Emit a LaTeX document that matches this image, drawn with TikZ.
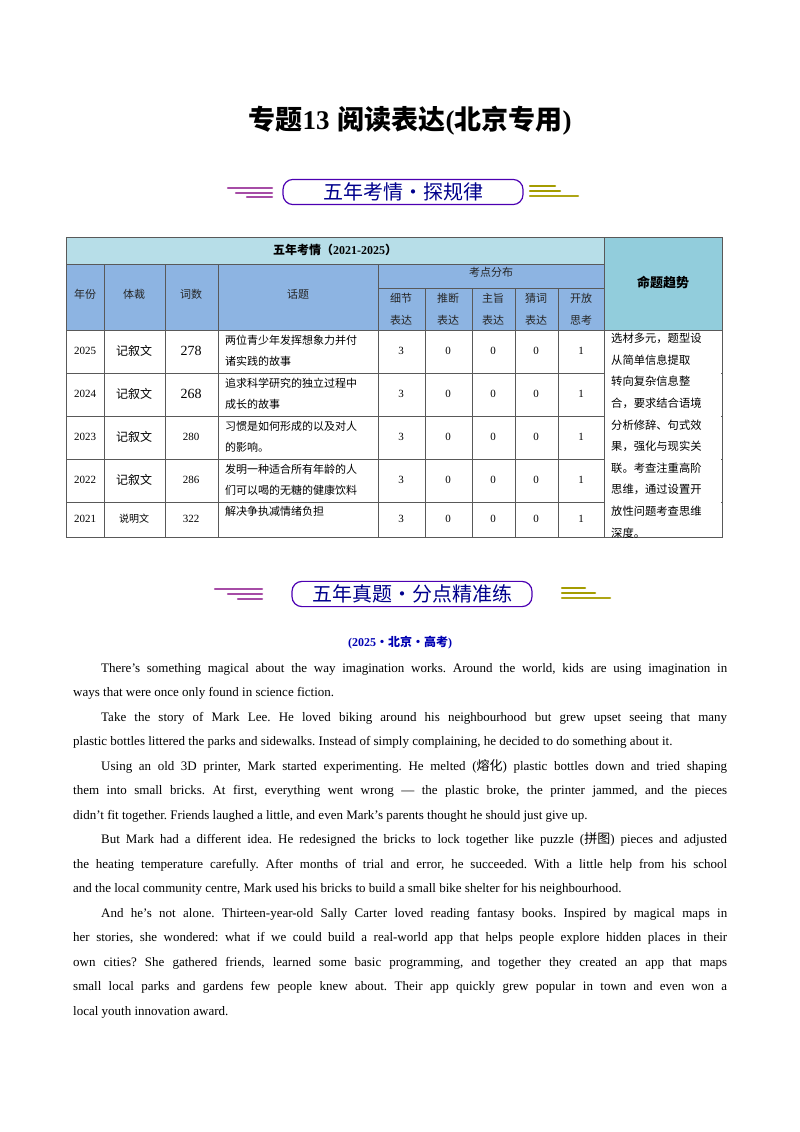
\documentclass[tikz,border=0pt]{standalone}
\usepackage{fontspec}
\setmainfont{Liberation Serif}
\newfontfamily\cjk{Noto Sans CJK SC}
\XeTeXlinebreaklocale "zh"
\definecolor{hdA}{HTML}{B7DEE8}
\definecolor{hdB}{HTML}{8DB4E2}
\definecolor{hdC}{HTML}{92CDDC}
\begin{document}
\begin{tikzpicture}[x=1pt,y=-1pt,
 cell/.style={inner sep=0pt,font=\fontsize{11}{18}\selectfont,align=center},
 ban/.style={draw=violet!60!blue,line width=1.2pt,rounded corners=10pt,minimum width=240pt,minimum height=24pt,font=\cjk\fontsize{20}{22}\selectfont,text=blue!55!black},
 para/.style={anchor=north west,text width=654pt,align=justify,inner sep=0pt,font=\fontsize{13}{24.5}\selectfont}]
\useasboundingbox (0,0) rectangle (800,1132);
\frenchspacing
\node (title) at (410,121) {\bfseries\fontsize{27}{29}\selectfont{\cjk 专题}13\hspace{8pt}{\cjk 阅读表达}({\cjk 北京专用})};
% banner 1
\node[ban] (b1) at (403,192) {五年考情·探规律};
\draw[violet!70,line width=2.5pt,line cap=round] (228,188)--(272,188);
\draw[violet!70,line width=2.5pt,line cap=round] (236,193)--(272,193);
\draw[violet!70,line width=2.5pt,line cap=round] (247,197)--(272,197);
\draw[olive!80!yellow,line width=2.5pt,line cap=round] (530,186)--(555,186);
\draw[olive!80!yellow,line width=2.5pt,line cap=round] (530,191)--(560,191);
\draw[olive!80!black!60!yellow,line width=2.5pt,line cap=round] (530,196)--(578,196);
% table
\fill[hdA] (66,237) rectangle (604,264);
\fill[hdB] (66,264) rectangle (604,330);
\fill[hdC] (604,237) rectangle (722,330);
\draw[gray!70!black,line width=0.6pt] (66,237) rectangle (722,537);
\foreach \y in {330,373,416,459,502}{\draw[gray!70!black,line width=0.5pt] (66,\y)--(722,\y);}
\draw[gray!70!black,line width=0.5pt] (66,264)--(604,264) (378,288)--(604,288);
\foreach \x in {104,165,218}{\draw[gray!70!black,line width=0.5pt] (\x,264)--(\x,537);}
\foreach \x in {425,472,515,558}{\draw[gray!70!black,line width=0.5pt] (\x,288)--(\x,537);}
\draw[gray!70!black,line width=0.5pt] (378,264)--(378,537) (604,237)--(604,537);
\foreach \y in {373,416,459,502}{\draw[white,line width=1pt] (605,\y)--(721,\y);}
\node[cell,font=\cjk\bfseries\fontsize{12}{14}\selectfont] (h0) at (335,250) {五年考情（\textnormal{\rmfamily\bfseries 2021-2025}）};
\node[cell,font=\cjk\bfseries\fontsize{13}{14}\selectfont] (h1) at (663,282) {命题趋势};
\node[cell,font=\cjk\fontsize{11}{14}\selectfont,text=gray!30!black] (hk) at (491,272) {考点分布};
\foreach \x/\t [count=\i] in {85/年份,134/体裁,191/词数,298/话题}{\node[cell,font=\cjk\fontsize{11}{14}\selectfont,text=gray!30!black] (hc\i) at (\x,294) {\t};}
\foreach \x/\t [count=\i] in {401/细节\\表达,448/推断\\表达,493/主旨\\表达,536/猜词\\表达,581/开放\\思考}{\node[cell,font=\cjk\fontsize{11}{22}\selectfont,text=gray!30!black] (hs\i) at (\x,309) {\t};}
\foreach \y/\yr/\g/\n/\t [count=\i] in {
351/2025/记叙文/278/两位青少年发挥想象力并付\\诸实践的故事,
394/2024/记叙文/268/追求科学研究的独立过程中\\成长的故事,
437/2023/记叙文/280/习惯是如何形成的以及对人\\的影响。,
480/2022/记叙文/286/发明一种适合所有年龄的人\\们可以喝的无糖的健康饮料}{
 \node[cell] (y\i) at (85,\y) {\yr};
 \node[cell,font=\cjk\fontsize{12}{14}\selectfont] (g\i) at (134,\y) {\g};
 \node[cell,font=\fontsize{\ifnum\i<3 14\else 11\fi}{16}\selectfont] (n\i) at (191,\y) {\n};
 \node[cell,anchor=west,align=left,font=\cjk\fontsize{11}{21}\selectfont] (t\i) at (225,\y) {\t};
 \foreach \x/\v [count=\j] in {401/3,448/0,493/0,536/0,581/1}{\node[cell] (v\i\j) at (\x,\y) {\v};}
}
\node[cell] (y5) at (85,519) {2021};
\node[cell,font=\cjk\fontsize{10}{14}\selectfont] (g5) at (134,519) {说明文};
\node[cell] (n5) at (191,519) {322};
\node[cell,anchor=west,font=\cjk\fontsize{11}{14}\selectfont] (t5) at (225,511) {解决争执减情绪负担};
\foreach \x/\v [count=\j] in {401/3,448/0,493/0,536/0,581/1}{\node[cell] (v5\j) at (\x,519) {\v};}
\node[anchor=north west,inner sep=0pt,align=left,font=\cjk\fontsize{11.3}{21.6}\selectfont] (trend) at (611,333) {选材多元，题型设\\从简单信息提取\\转向复杂信息整\\合，要求结合语境\\分析修辞、句式效\\果，强化与现实关\\联。考查注重高阶\\思维，通过设置开\\放性问题考查思维\\深度。};
% banner 2
\node[ban] (b2) at (412,594) {五年真题·分点精准练};
\draw[violet!70,line width=2.5pt,line cap=round] (215,589)--(262,589);
\draw[violet!70,line width=2.5pt,line cap=round] (228,594)--(262,594);
\draw[violet!70,line width=2.5pt,line cap=round] (238,599)--(262,599);
\draw[olive!80!yellow,line width=2.5pt,line cap=round] (562,588)--(585,588);
\draw[olive!80!yellow,line width=2.5pt,line cap=round] (562,593)--(595,593);
\draw[olive!80!black!60!yellow,line width=2.5pt,line cap=round] (562,598)--(610,598);
\node[font=\bfseries\fontsize{12}{14}\selectfont,text=blue!70!black] (src) at (400,643) {(2025{\cjk ·北京·高考})};
\node[para] (p1) at (73,663) {\hspace*{28pt}There’s something magical about the way imagination works. Around the world, kids are using imagination in\linebreak ways that were once only found in science fiction.\par
\hspace*{28pt}Take the story of Mark Lee. He loved biking around his neighbourhood but grew upset seeing that many\linebreak plastic bottles littered the parks and sidewalks. Instead of simply complaining, he decided to do something about it.\par
\hspace*{28pt}Using an old 3D printer, Mark started experimenting. He melted ({\cjk 熔化}) plastic bottles down and tried shaping\linebreak them into small bricks. At first, everything went wrong — the plastic broke, the printer jammed, and the pieces\linebreak didn’t fit together. Friends laughed a little, and even Mark’s parents thought he should just give up.\par
\hspace*{28pt}But Mark had a different idea. He redesigned the bricks to lock together like puzzle ({\cjk 拼图}) pieces and adjusted\linebreak the heating temperature carefully. After months of trial and error, he succeeded. With a little help from his school\linebreak and the local community centre, Mark used his bricks to build a small bike shelter for his neighbourhood.\par
\hspace*{28pt}And he’s not alone. Thirteen-year-old Sally Carter loved reading fantasy books. Inspired by magical maps in\linebreak her stories, she wondered: what if we could build a real-world app that helps people explore hidden places in their\linebreak own cities? She gathered friends, learned some basic programming, and together they created an app that maps\linebreak small local parks and gardens few people knew about. Their app quickly grew popular in town and even won a\linebreak local youth innovation award.};
\end{tikzpicture}
\end{document}
